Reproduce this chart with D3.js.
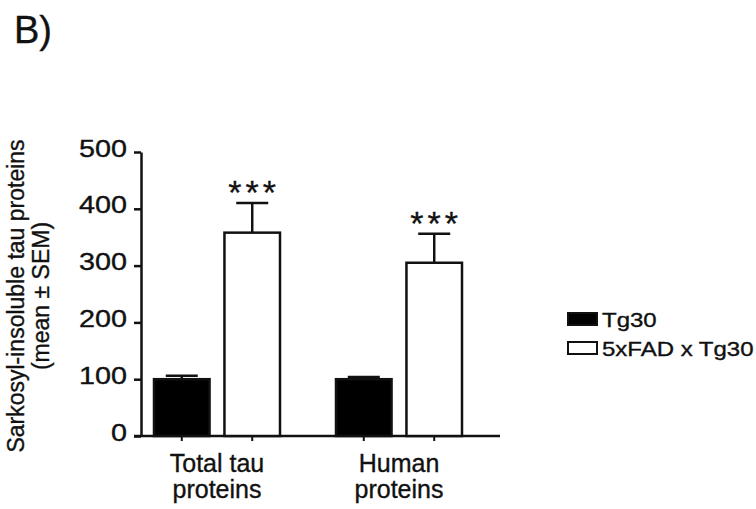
<!DOCTYPE html>
<html><head><meta charset="utf-8">
<script src="https://cdn.jsdelivr.net/npm/d3@7"></script>
<style>
html,body{margin:0;padding:0;background:#fff;}
svg{display:block;font-family:"Liberation Sans",Arial,Helvetica,sans-serif;}
svg text{stroke:#111;stroke-width:0.35px;}
</style></head>
<body>
<svg id="c" width="756" height="509"></svg>
<script>
const groups = ["Total tau\nproteins", "Human\nproteins"];
const series = ["Tg30", "5xFAD x Tg30"];
const meanTg30 = [100, 100];
const semTg30 = [6, 4];
const meanFAD = [358, 305];
const semFAD = [52, 51];
const significance = ["***", "***"];
const yTicks = [0, 100, 200, 300, 400, 500];
const yTitle = ["Sarkosyl-insoluble tau proteins", "(mean \u00b1 SEM)"];
const panelLabel = "B)";

const data = groups.map((g, i) => ({
  group: g,
  values: [
    {series: series[0], mean: meanTg30[i], sem: semTg30[i]},
    {series: series[1], mean: meanFAD[i], sem: semFAD[i]}
  ],
  sig: significance[i]
}));

const svg = d3.select("#c");
const ink = "#111";
const fills = {"Tg30": "#000", "5xFAD x Tg30": "#fff"};

const y = d3.scaleLinear().domain([0, 500]).range([436, 152]);
const x0 = d3.scaleBand().domain(groups).range([153, 463]).paddingInner(54/182).paddingOuter(0);
const x1 = d3.scaleBand().domain(series).range([0, x0.bandwidth()]).paddingInner(0.183).paddingOuter(0);

// Panel label
svg.append("text").attr("x", 14).attr("y", 43).attr("font-size", 38).attr("fill", ink).text(panelLabel);

// Y axis
const yAxis = svg.append("g").attr("transform", "translate(141,0)")
  .call(d3.axisLeft(y).tickValues(yTicks).tickSize(7).tickSizeOuter(0).tickFormat(d3.format("d")));
yAxis.select(".domain").attr("stroke", ink).attr("stroke-width", 2.5);
yAxis.selectAll(".tick line").attr("stroke", ink).attr("stroke-width", 2.5);
yAxis.selectAll(".tick text")
  .attr("x", null).attr("dy", null)
  .attr("font-size", 23).attr("fill", ink)
  .attr("text-anchor", "end")
  .attr("transform", "translate(-14,4) scale(1.25,1)");

// X axis line
const base = y(0);
svg.append("line").attr("x1", 134).attr("x2", 500).attr("y1", base).attr("y2", base)
  .attr("stroke", ink).attr("stroke-width", 2.5);

// Bars
const g = svg.selectAll(".grp").data(data).join("g")
  .attr("class", "grp").attr("transform", d => `translate(${x0(d.group)},0)`);

g.selectAll(".tickx").data(d => d.values).join("line")
  .attr("x1", d => x1(d.series) + x1.bandwidth()/2)
  .attr("x2", d => x1(d.series) + x1.bandwidth()/2)
  .attr("y1", base).attr("y2", base + 5)
  .attr("stroke", ink).attr("stroke-width", 2);

// error bars
g.selectAll(".err").data(d => d.values).join("line")
  .attr("x1", d => x1(d.series) + x1.bandwidth()/2)
  .attr("x2", d => x1(d.series) + x1.bandwidth()/2)
  .attr("y1", d => y(d.mean)).attr("y2", d => y(d.mean + d.sem))
  .attr("stroke", ink).attr("stroke-width", 2.5);
g.selectAll(".cap").data(d => d.values).join("line")
  .attr("x1", d => x1(d.series) + x1.bandwidth()/2 - 16)
  .attr("x2", d => x1(d.series) + x1.bandwidth()/2 + 16)
  .attr("y1", d => y(d.mean + d.sem)).attr("y2", d => y(d.mean + d.sem))
  .attr("stroke", ink).attr("stroke-width", 2.5);

g.selectAll(".bar").data(d => d.values).join("rect")
  .attr("x", d => x1(d.series) + 1)
  .attr("width", x1.bandwidth() - 2)
  .attr("y", d => y(d.mean))
  .attr("height", d => base - y(d.mean))
  .attr("fill", d => fills[d.series])
  .attr("stroke", ink).attr("stroke-width", 2.5);

// significance stars
g.append("text")
  .attr("x", d => x1(series[1]) + x1.bandwidth()/2 + 2)
  .attr("y", d => y(d.values[1].mean + d.values[1].sem) + 1)
  .attr("text-anchor", "middle").attr("font-size", 34).attr("letter-spacing", 4)
  .attr("fill", ink).text(d => d.sig);

// category labels
g.append("text")
  .attr("x", x0.bandwidth()/2)
  .attr("text-anchor", "middle").attr("font-size", 25).attr("fill", ink)
  .selectAll("tspan").data(d => d.group.split("\n")).join("tspan")
  .attr("x", x0.bandwidth()/2)
  .attr("y", (d, i) => 472 + i * 26)
  .text(d => d);

// Y title
const yt = svg.append("text").attr("transform", "translate(0,296) rotate(-90)")
  .attr("text-anchor", "middle").attr("font-size", 23).attr("fill", ink);
yt.selectAll("tspan").data(yTitle).join("tspan")
  .attr("x", 0).attr("y", (d, i) => 24 + i * 25).text(d => d);

// Legend
const leg = svg.append("g").attr("transform", "translate(567,313)");
const li = leg.selectAll("g").data(series).join("g").attr("transform", (d, i) => `translate(0,${i * 29})`);
li.append("rect").attr("x", 1).attr("y", 0).attr("width", 29).attr("height", 12)
  .attr("fill", d => fills[d]).attr("stroke", ink).attr("stroke-width", 2);
li.append("text").attr("font-size", 20).attr("fill", ink)
  .attr("transform", "translate(35,14) scale(1.2,1)").text(d => d);
</script>
</body></html>
